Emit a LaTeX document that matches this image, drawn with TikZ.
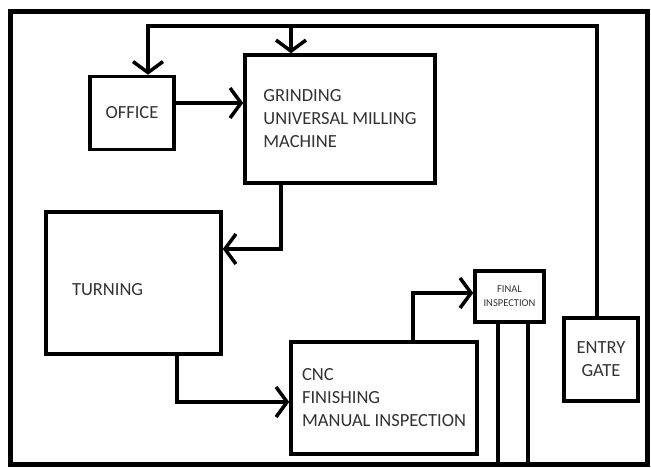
\documentclass[tikz,border=0pt]{standalone}
\usepackage{fontspec}
\setmainfont{Carlito}
\usetikzlibrary{arrows.meta}
\definecolor{txtgray}{RGB}{50,50,50}
\tikzset{
  room/.style={draw, line width=3.5pt, inner sep=0pt, text=txtgray,
    font=\fontsize{18.5}{23}\selectfont},
}

\begin{document}
\begin{tikzpicture}[>={Straight Barb[length=11pt,width=30pt]}, line width=3.5pt, x=1pt, y=-1pt]
  \useasboundingbox (0,0) rectangle (651,468);
  \draw[line width=5pt] (10,12) rectangle (647,464);

  \node[room, minimum width=84, minimum height=73] (office) at (132,113) {OFFICE};
  \node[room, minimum width=190, minimum height=128, align=left] (grind) at (340,119)
    {GRINDING\\UNIVERSAL MILLING\\MACHINE};
  \node[room, minimum width=175, minimum height=142, text width=123, text height=24pt, text depth=0pt, align=left] (turn) at (133.5,283)
    {TURNING};
  \node[room, minimum width=186, minimum height=112, align=left] (cnc) at (384,398)
    {CNC\\FINISHING\\MANUAL INSPECTION};
  \node[room, minimum width=69, minimum height=51, align=center, font=\fontsize{10.5}{14}\selectfont] (final) at (509.5,296.5)
    {FINAL\\INSPECTION};
  \node[room, minimum width=74, minimum height=83, align=center] (gate) at (601,359.5) {ENTRY\\GATE};

  \coordinate (loopL) at (148,26);
  \coordinate (split) at (291,26);

  \draw[->] ([xshift=-4pt]gate.north) |- (loopL) -- (loopL |- office.north);
  \draw[->] (split) -- (split |- grind.north);
  \draw[->] ([yshift=10pt]office.east) -- ([yshift=10pt]office.east -| grind.west);
  \draw[->] ([xshift=-59pt]grind.south) |- ([yshift=34pt]turn.east);
  \draw[->] ([xshift=43.5pt]turn.south) |- ([yshift=-4pt]cnc.west);
  \draw[->] ([xshift=29pt]cnc.north) |- ([yshift=3.5pt]final.west);
  \draw ([xshift=-11.5pt]final.south) -- ++(0,143);
  \draw ([xshift=18.5pt]final.south) -- ++(0,143);
\end{tikzpicture}
\end{document}
